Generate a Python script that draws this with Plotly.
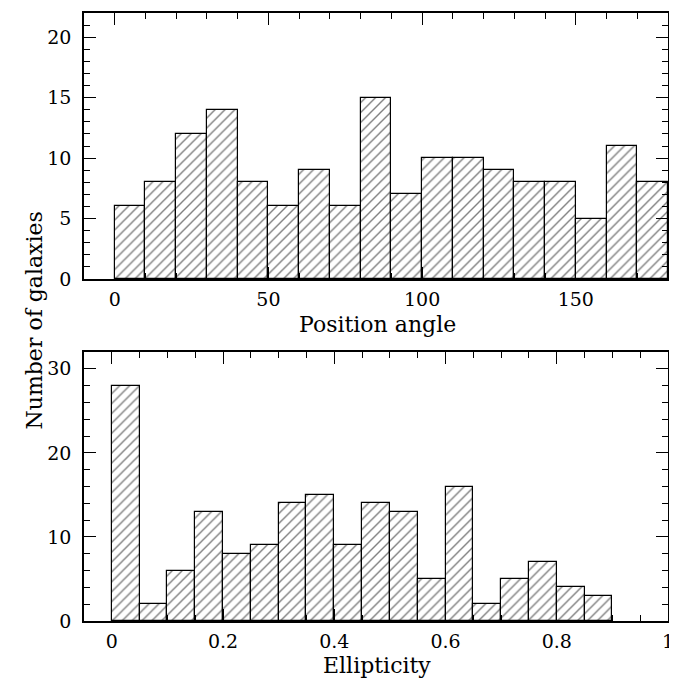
import plotly.graph_objects as go

# Data
pa_bin_left = [0, 10, 20, 30, 40, 50, 60, 70, 80, 90, 100, 110, 120, 130, 140, 150, 160, 170]
pa_counts = [6, 8, 12, 14, 8, 6, 9, 6, 15, 7, 10, 10, 9, 8, 8, 5, 11, 8]
pa_width = 10

ell_bin_left = [0.0, 0.05, 0.10, 0.15, 0.20, 0.25, 0.30, 0.35, 0.40, 0.45,
                0.50, 0.55, 0.60, 0.65, 0.70, 0.75, 0.80, 0.85]
ell_counts = [28, 2, 6, 13, 8, 9, 14, 15, 9, 14, 13, 5, 16, 2, 5, 7, 4, 3]
ell_width = 0.05

FONT = "DejaVu Serif"
OFF = 8  # page body margin
W, H = 677 - OFF, 679 - OFF

fig = go.Figure()

bar_style = dict(
    marker=dict(color="white", line=dict(color="black", width=1.2),
                pattern=dict(shape="/", fgcolor="black", bgcolor="white",
                             size=7, solidity=0.2, fillmode="overlay")),
    showlegend=False,
)

fig.add_trace(go.Bar(x=[l + pa_width / 2 for l in pa_bin_left], y=pa_counts,
                     width=pa_width, xaxis="x", yaxis="y", **bar_style))
fig.add_trace(go.Bar(x=[l + ell_width / 2 for l in ell_bin_left], y=ell_counts,
                     width=ell_width, xaxis="x2", yaxis="y2", **bar_style))

def px_x(p):
    return (p - OFF) / W

def px_y(p):
    return 1 - (p - OFF) / H

axis_common = dict(
    showgrid=False, zeroline=False, showline=True, linecolor="black", linewidth=1.5,
    mirror="allticks", ticks="inside", ticklen=12, tickcolor="black", tickwidth=1,
    tickfont=dict(family=FONT, size=19, color="black"), automargin=False,
)
minor_common = dict(ticks="inside", ticklen=6, tickcolor="black", tickwidth=1)

fig.update_layout(
    width=W, height=H,
    margin=dict(l=0, r=0, t=0, b=0),
    paper_bgcolor="white", plot_bgcolor="white",
    bargap=0,
    xaxis=dict(domain=[px_x(84), px_x(668)], anchor="y", range=[-10, 180],
               tickvals=[0, 50, 100, 150], ticklabelstandoff=2,
               minor=dict(dtick=10, tick0=0, **minor_common), **axis_common),
    yaxis=dict(domain=[px_y(279), px_y(13)], anchor="x", range=[0, 22],
               tickvals=[0, 5, 10, 15, 20], ticklabelstandoff=7,
               minor=dict(dtick=1, tick0=0, **minor_common), **axis_common),
    xaxis2=dict(domain=[px_x(84), px_x(668)], anchor="y2", range=[-0.05, 1.0],
                tickvals=[0, 0.2, 0.4, 0.6, 0.8, 1], ticktext=["0", "0.2", "0.4", "0.6", "0.8", "1"],
                ticklabelstandoff=2,
                minor=dict(dtick=0.05, tick0=0, **minor_common), **axis_common),
    yaxis2=dict(domain=[px_y(621), px_y(352)], anchor="x2", range=[0, 32],
                tickvals=[0, 10, 20, 30], ticklabelstandoff=7,
                minor=dict(dtick=2, tick0=0, **minor_common), **axis_common),
    annotations=[
        dict(text="Number of galaxies", x=px_x(19), y=px_y(321),
             xref="paper", yref="paper", showarrow=False, textangle=-90,
             font=dict(family=FONT, size=22, color="black")),
        dict(text="Position angle", x=px_x(377), y=px_y(325),
             xref="paper", yref="paper", showarrow=False,
             font=dict(family=FONT, size=22, color="black")),
        dict(text="Ellipticity", x=px_x(377), y=px_y(651), yanchor="top",
             xref="paper", yref="paper", showarrow=False,
             font=dict(family=FONT, size=22, color="black")),
    ],
)

fig.write_html("out.html")
